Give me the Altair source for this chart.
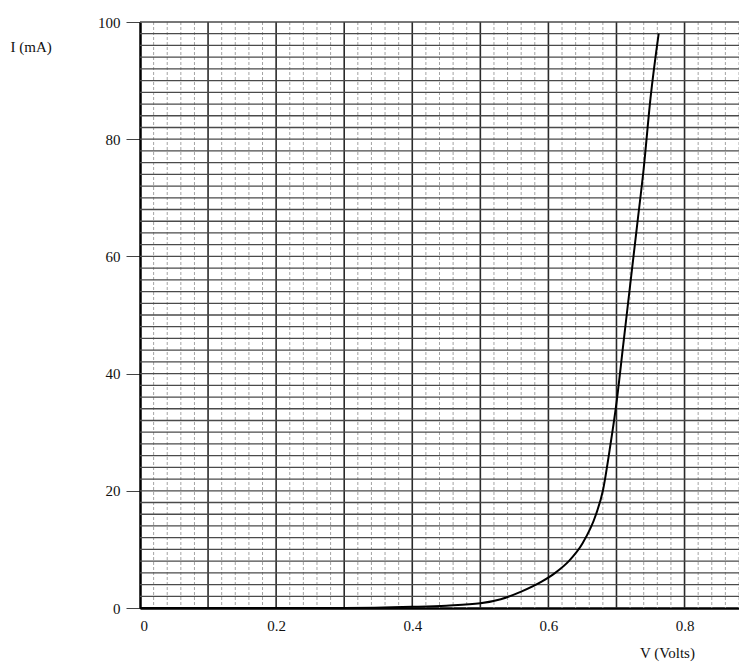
import altair as alt
import pandas as pd

# Diode I-V curve
V = [0.0, 0.1, 0.2, 0.3, 0.4, 0.45, 0.5, 0.53, 0.56, 0.59, 0.61, 0.63, 0.65,
     0.67, 0.68, 0.69, 0.70, 0.71, 0.72, 0.73, 0.74, 0.75, 0.762]
I = [0.0, 0.0, 0.0, 0.0, 0.2, 0.4, 0.8, 1.5, 2.8, 4.5, 6.0, 8.0, 11.0,
     16.0, 20.0, 27.0, 35.0, 45.0, 55.0, 65.0, 75.0, 87.0, 98.0]

x_ticks = [0, 0.2, 0.4, 0.6, 0.8]
y_ticks = [0, 20, 40, 60, 80, 100]
v_major = [0.1, 0.2, 0.3, 0.4, 0.5, 0.6, 0.7, 0.8]
v_minor = [round(0.02 * k, 2) for k in range(1, 45) if k % 5 != 0]
h_lines = list(range(2, 101, 2))

FONT = "Liberation Serif"
xs = alt.Scale(domain=[0, 0.88], nice=False, zero=False)
ys = alt.Scale(domain=[0, 100], nice=False)

x_axis = alt.Axis(
    values=x_ticks, format="~g", grid=False, ticks=False, domain=True,
    domainColor="black", domainWidth=2.5, labelPadding=10,
    labelFont=FONT, labelFontSize=15, labelColor="#111",
    title="V (Volts)", titleFont=FONT, titleFontSize=15,
    titleFontWeight="normal", titleColor="#111",
    titleX=527, titleY=44, titleAlign="center", titleBaseline="middle")
y_axis = alt.Axis(
    values=y_ticks, grid=False, ticks=True, tickSize=14,
    tickColor="#444", tickWidth=1, domain=True, domainColor="black",
    domainWidth=2.5, labelPadding=6,
    labelFont=FONT, labelFontSize=15, labelColor="#111",
    title="I (mA)", titleFont=FONT, titleFontSize=15,
    titleFontWeight="normal", titleColor="#111", titleAngle=0,
    titleX=-130, titleY=24, titleAlign="left", titleBaseline="middle")

curve_df = pd.DataFrame({"V": V, "I": I})

minor_v = alt.Chart(pd.DataFrame({"v": v_minor})).mark_rule(
    color="#9a9a9a", strokeWidth=0.9, strokeDash=[3, 2]
).encode(x=alt.X("v:Q", scale=xs, axis=x_axis))

major_v = alt.Chart(pd.DataFrame({"v": v_major})).mark_rule(
    color="#2a2a2a", strokeWidth=1.6
).encode(x=alt.X("v:Q", scale=xs, axis=x_axis))

hl = alt.Chart(pd.DataFrame({"i": h_lines})).mark_rule(
    color="#4a4a4a", strokeWidth=1.3
).encode(y=alt.Y("i:Q", scale=ys, axis=y_axis))

curve = alt.Chart(curve_df).mark_line(
    color="black", strokeWidth=2, interpolate="monotone"
).encode(
    x=alt.X("V:Q", scale=xs, axis=x_axis),
    y=alt.Y("I:Q", scale=ys, axis=y_axis),
)

chart = alt.layer(minor_v, major_v, hl, curve).properties(
    width=599, height=586,
    autosize=alt.AutoSizeParams(type="none"),
    padding={"left": 132, "top": 14, "right": 0, "bottom": 60},
    background="white",
).configure_view(stroke=None)

chart.save("out.html", embed_options={"renderer": "svg", "actions": False})
